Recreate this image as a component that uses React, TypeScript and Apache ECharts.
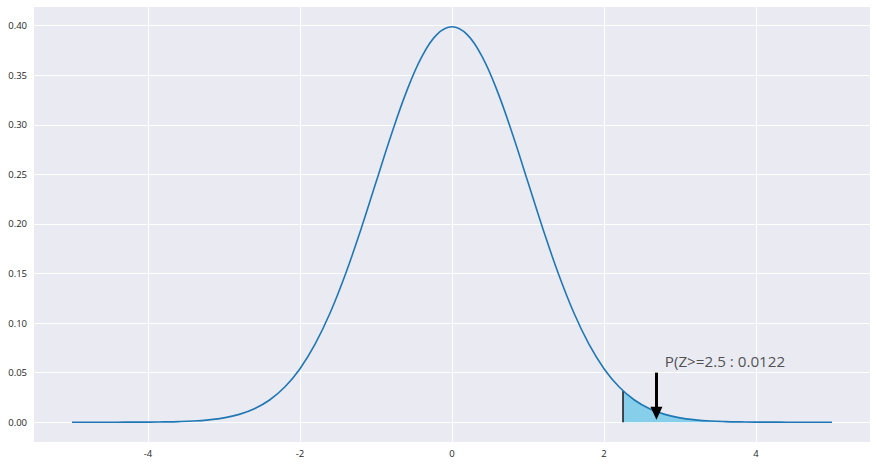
import React, { useEffect, useRef } from "react";
import * as echarts from "echarts";

const xValues = [
  -5.0, -4.8, -4.6, -4.4, -4.2, -4.0, -3.8, -3.6, -3.4, -3.2, -3.0, -2.8, -2.6, -2.4, -2.2, -2.0,
  -1.8, -1.6, -1.4, -1.2, -1.0, -0.8, -0.6, -0.4, -0.2, 0.0, 0.2, 0.4, 0.6, 0.8, 1.0, 1.2, 1.4,
  1.6, 1.8, 2.0, 2.2, 2.4, 2.6, 2.8, 3.0, 3.2, 3.4, 3.6, 3.8, 4.0, 4.2, 4.4, 4.6, 4.8, 5.0,
];
const densityValues = [
  0.0, 0.0, 0.0, 0.0, 0.0001, 0.0001, 0.0003, 0.0006, 0.0012, 0.0024, 0.0044, 0.0079, 0.0136,
  0.0224, 0.0355, 0.054, 0.079, 0.1109, 0.1497, 0.1942, 0.242, 0.2897, 0.3332, 0.3683, 0.391,
  0.3989, 0.391, 0.3683, 0.3332, 0.2897, 0.242, 0.1942, 0.1497, 0.1109, 0.079, 0.054, 0.0355,
  0.0224, 0.0136, 0.0079, 0.0044, 0.0024, 0.0012, 0.0006, 0.0003, 0.0001, 0.0001, 0.0, 0.0, 0.0,
  0.0,
];
const cutoff = 2.25;
const cutoffDensity = 0.0317;
const arrowX = 2.69;
const arrowTop = 0.05;
const arrowTip = 0.009;
const labelX = 2.8;
const labelY = 0.0545;
const labelText = "P(Z>=2.5 : 0.0122";
const xTicks = [-4, -2, 0, 2, 4];
const yTicks = [0, 0.05, 0.1, 0.15, 0.2, 0.25, 0.3, 0.35, 0.4];

export default function App() {
  const ref = useRef<HTMLDivElement>(null);
  useEffect(() => {
    if (!ref.current) return;
    const chart = echarts.init(ref.current, undefined, { renderer: "svg" });
    const curve = xValues.map((x, i) => [x, densityValues[i]]);
    const tail = [[cutoff, cutoffDensity], ...curve.filter((p) => p[0] > cutoff)];
    const font = "'Open Sans', 'Noto Sans', sans-serif";
    chart.setOption({
      animation: false,
      backgroundColor: "#ffffff",
      grid: {
        left: 34,
        right: 7,
        top: 7,
        bottom: 23,
        show: true,
        backgroundColor: "#EAEAF2",
        borderWidth: 0,
      },
      xAxis: {
        type: "value",
        min: -5.5,
        max: 5.5,
        axisLine: { show: false },
        axisTick: { show: false, customValues: xTicks },
        axisLabel: {
          customValues: xTicks,
          color: "#262626",
          fontSize: 9.5,
          fontFamily: font,
          margin: 6,
        },
        splitLine: { show: true, lineStyle: { color: "#ffffff", width: 1 } },
      },
      yAxis: {
        type: "value",
        min: -0.01995,
        max: 0.4188,
        axisLine: { show: false },
        axisTick: { show: false, customValues: yTicks },
        axisLabel: {
          customValues: yTicks,
          color: "#262626",
          fontSize: 9.5,
          fontFamily: font,
          margin: 7,
          formatter: (v: number) => v.toFixed(2),
        },
        splitLine: { show: true, lineStyle: { color: "#ffffff", width: 1 } },
      },
      series: [
        {
          type: "line",
          data: tail,
          showSymbol: false,
          smooth: 0.4,
          lineStyle: { width: 0 },
          areaStyle: { color: "#87CEEB", opacity: 1, origin: 0 },
          z: 2,
        },
        {
          type: "line",
          data: [
            [cutoff, 0],
            [cutoff, cutoffDensity],
          ],
          showSymbol: false,
          lineStyle: { color: "#222222", width: 1.6 },
          z: 3,
        },
        {
          type: "line",
          data: curve,
          showSymbol: false,
          smooth: 0.4,
          lineStyle: { color: "#1f77b4", width: 1.6 },
          z: 4,
        },
        {
          type: "line",
          data: [],
          z: 5,
          markLine: {
            silent: true,
            symbol: ["none", "triangle"],
            symbolSize: [12, 13],
            label: { show: false },
            lineStyle: { color: "#000000", width: 3, type: "solid" },
            itemStyle: { color: "#000000", borderColor: "#ffffff", borderWidth: 0.5 },
            data: [
              [
                { coord: [arrowX, arrowTop] },
                { coord: [arrowX, arrowTip] },
              ],
            ],
          },
        },
        {
          type: "scatter",
          data: [[labelX, labelY]],
          symbolSize: 0,
          z: 6,
          label: {
            show: true,
            position: [0, 0],
            align: "left",
            verticalAlign: "bottom",
            formatter: labelText,
            fontSize: 15.2,
            fontFamily: font,
            color: "#262626",
          },
        },
      ],
    });
    return () => chart.dispose();
  }, []);
  return <div ref={ref} style={{ width: 877, height: 465, position: "absolute", left: 0, top: 0 }} />;
}
